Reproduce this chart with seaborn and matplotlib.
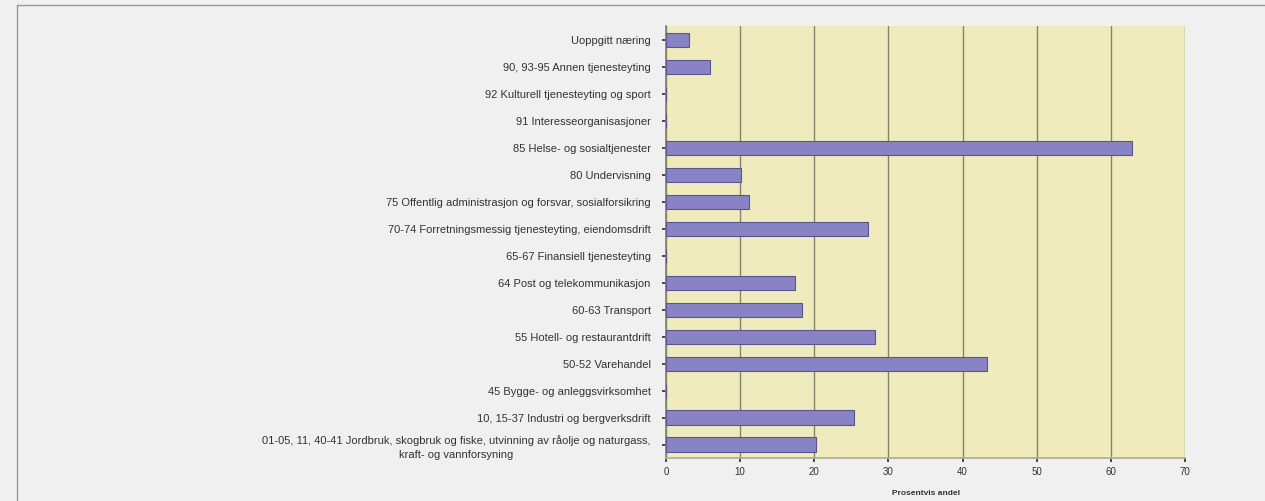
import pandas as pd
import seaborn as sns
import matplotlib.pyplot as plt
from matplotlib.lines import Line2D

sns.set_theme(style="white")
plt.rcParams["font.family"] = ["Liberation Sans", "DejaVu Sans"]

# industry categories, top to bottom
naering = [
    "Uoppgitt næring",
    "90, 93-95 Annen tjenesteyting",
    "92 Kulturell tjenesteyting og sport",
    "91 Interesseorganisasjoner",
    "85 Helse- og sosialtjenester",
    "80 Undervisning",
    "75 Offentlig administrasjon og forsvar, sosialforsikring",
    "70-74 Forretningsmessig tjenesteyting, eiendomsdrift",
    "65-67 Finansiell tjenesteyting",
    "64 Post og telekommunikasjon",
    "60-63 Transport",
    "55 Hotell- og restaurantdrift",
    "50-52 Varehandel",
    "45 Bygge- og anleggsvirksomhet",
    "10, 15-37 Industri og bergverksdrift",
    "01-05, 11, 40-41 Jordbruk, skogbruk og fiske, utvinning av råolje og naturgass,\nkraft- og vannforsyning",
]
prosent = [3.1, 5.9, 0, 0, 62.8, 10.1, 11.2, 27.3, 0, 17.4, 18.3, 28.2, 43.3, 0, 25.3, 20.2]
x_ticks = [0, 10, 20, 30, 40, 50, 60, 70]

df = pd.DataFrame({"naering": naering, "prosent": prosent})

fig = plt.figure(figsize=(12.65, 5.01), dpi=100)
fig.patch.set_facecolor("#f0f0f0")
ax = fig.add_axes([0.5265, 0.0858, 0.4103, 0.8622])
ax.set_facecolor("#efebbc")

sns.barplot(data=df, x="prosent", y="naering", orient="h", ax=ax,
            color="#8783c4", edgecolor="#5a5590", linewidth=0.8,
            width=0.52, saturation=1, zorder=3)

ax.set_xlim(0, 70)
ax.set_xticks(x_ticks)
ax.xaxis.grid(True, color="#85836a", linewidth=1.0, zorder=0)
ax.set_axisbelow(True)
for s in ["top", "right"]:
    ax.spines[s].set_visible(False)
ax.spines["left"].set_color("#85836a")
ax.spines["bottom"].set_color("#b0ae98")

ax.tick_params(axis="y", labelsize=8, colors="#333333", length=3, left=True, pad=8)
ax.tick_params(axis="x", labelsize=7, colors="#333333", length=3, bottom=True)
for lbl in ax.get_yticklabels():
    lbl.set_multialignment("center")
    lbl.set_linespacing(1.5)

ax.set_ylabel("")
ax.set_xlabel("Prosentvis andel", fontsize=6, fontweight="bold", color="#333333", labelpad=9)

# thin grey frame around the figure area
fig.add_artist(Line2D([17 / 1265, 17 / 1265], [0, 1 - 5 / 501], color="#999999", linewidth=1))
fig.add_artist(Line2D([17 / 1265, 1], [1 - 5 / 501, 1 - 5 / 501], color="#999999", linewidth=1))

fig.savefig("out.png", dpi=100, facecolor=fig.get_facecolor())
